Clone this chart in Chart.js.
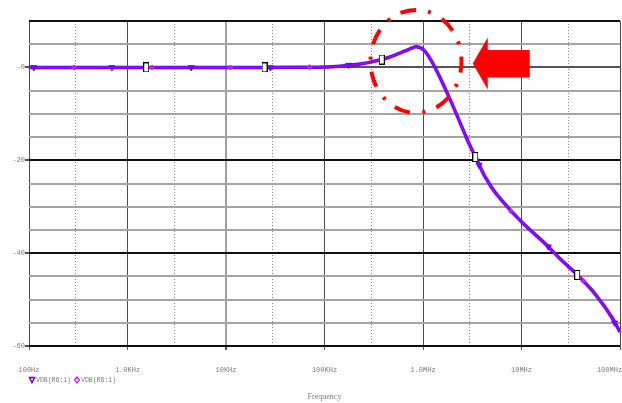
<!DOCTYPE html>
<html><head><meta charset="utf-8">
<script src="https://cdn.jsdelivr.net/npm/chart.js@4.4.0/dist/chart.umd.min.js"></script>
<style>html,body{margin:0;padding:0;background:#fff;overflow:hidden}canvas{display:block}</style>
</head><body>
<canvas id="c" width="622" height="403"></canvas>
<script>
// ---- data ----
const freqHz = [100, 200, 500, 1e3, 2e3, 5e3, 1e4, 2e4, 5e4, 8e4, 1.2e5, 1.7e5, 2.3e5, 3e5, 3.8e5, 4.8e5, 6e5, 7.2e5, 8.5e5, 1.02e6, 1.25e6, 1.52e6, 1.85e6, 2.16e6, 2.63e6, 3.2e6, 3.46e6, 3.71e6, 4.92e6, 7.33e6, 9.93e6, 1.87e7, 2.54e7, 3.7e7, 5.5e7, 8.6e7, 1e8];
const vdbA = [0, 0, 0, 0, 0, 0, 0, 0, 0.02, 0.05, 0.15, 0.4, 0.75, 1.2, 1.7, 2.4, 3.2, 3.9, 4.45, 3.75, 1.0, -2.6, -6.5, -9.8, -14.1, -18.1, -19.3, -21.0, -25.7, -30.2, -33.2, -38.6, -41.5, -44.7, -48.6, -54.4, -57.0];
const vdbB = [0, 0, 0, 0, 0, 0, 0, 0, 0.02, 0.05, 0.15, 0.4, 0.75, 1.2, 1.7, 2.4, 3.2, 3.9, 4.45, 3.75, 1.0, -2.6, -6.5, -9.8, -14.1, -18.1, -19.3, -21.0, -25.7, -30.2, -33.2, -38.6, -41.5, -44.7, -48.6, -54.4, -57.0];
const seriesLabels = ['VDB(R6:1)', 'VDB(R6:1)'];

const triFreq = [112, 695, 4.44e3, 2.82e4, 1.76e5, 3.71e6, 1.87e7, 8.8e7];
const triDb   = [0, 0, 0, 0, 0.5, -21.0, -38.6, -55.0];
const diaFreq = [286, 1.77e3, 1.11e4, 7.05e4, 7.85e6, 4.24e7];
const diaDb   = [0, 0, 0, 0.05, -31.0, -46.0];
const curFreq = [1.55e3, 2.46e4, 3.81e5, 3.4e6, 3.68e7];
const curDb   = [0, 0, 1.7, -19.3, -44.7];

const decadeTicks  = [1e2, 1e3, 1e4, 1e5, 1e6, 1e7, 1e8];
const decadeLabels = ['100Hz', '1.0KHz', '10KHz', '100KHz', '1.0MHz', '10MHz', '100MHz     '];
const halfDecadeTicks = [3e2, 3e3, 3e4, 3e5, 3e6, 3e7];
const yLabelValues = [0, -20, -40, -60];
const yLabelTexts  = ['-0', '-20', '-40', '-60'];

// ---- styles ----
const colA = '#6e00ff', colB = '#c81ee0';
const tickFont = {family: '"Liberation Mono", "DejaVu Sans Mono", monospace', size: 7};
const textCol = '#7a7a7a';

const pts = (xs, ys) => xs.map((x, i) => ({x: x, y: ys[i]}));

const cursorImg = document.createElement('canvas');
cursorImg.width = 6; cursorImg.height = 10;
(function(){const g = cursorImg.getContext('2d'); g.fillStyle = '#fff'; g.fillRect(0,0,6,10); g.strokeStyle = '#000'; g.lineWidth = 1; g.strokeRect(0.5,0.5,5,9);})();

const annot = {ellipseFreq: 8.5e5, ellipseDb: 1.3, rx: 45.5, ry: 51.5, arrowFreq: 3.2e6, arrowDb: 0.85};

const legendPlugin = {
  id: 'pspiceLegend',
  afterDraw(chart) {
    const ctx = chart.ctx;
    ctx.save();
    ctx.font = '6.5px "Liberation Mono", "DejaVu Sans Mono", monospace';
    ctx.textBaseline = 'middle';
    ctx.fillStyle = textCol;
    const y = 380;
    ctx.strokeStyle = colA; ctx.lineWidth = 1.5;
    ctx.beginPath(); ctx.moveTo(29.5, 377.5); ctx.lineTo(34.5, 377.5); ctx.lineTo(32, 382.5); ctx.closePath(); ctx.stroke();
    ctx.fillText(seriesLabels[0], 36, y);
    ctx.strokeStyle = colB; ctx.lineWidth = 1.2;
    ctx.beginPath(); ctx.moveTo(77, 377); ctx.lineTo(79.5, 380); ctx.lineTo(77, 383); ctx.lineTo(74.5, 380); ctx.closePath(); ctx.stroke();
    ctx.fillText(seriesLabels[1], 81, y);
    ctx.restore();
  }
};

const annotPlugin = {
  id: 'redMarks',
  afterDatasetsDraw(chart) {
    const ctx = chart.ctx, xs = chart.scales.x, ys = chart.scales.y;
    const cx = xs.getPixelForValue(annot.ellipseFreq), cy = ys.getPixelForValue(annot.ellipseDb);
    ctx.save();
    ctx.strokeStyle = '#ff0000'; ctx.lineWidth = 4; ctx.lineCap = 'butt';
    ctx.setLineDash([16, 12, 3, 12.6]);
    const a0 = -1.918;
    ctx.beginPath(); ctx.ellipse(cx, cy, annot.rx, annot.ry, 0, a0, a0 + Math.PI * 2); ctx.stroke();
    ctx.setLineDash([]);
    const tx = xs.getPixelForValue(annot.arrowFreq), ty = ys.getPixelForValue(annot.arrowDb);
    ctx.fillStyle = '#ff0000';
    ctx.beginPath();
    ctx.moveTo(tx, ty);
    ctx.lineTo(tx + 15, ty - 26);
    ctx.lineTo(tx + 15, ty - 13.5);
    ctx.lineTo(tx + 57, ty - 13.5);
    ctx.lineTo(tx + 57, ty + 14);
    ctx.lineTo(tx + 15, ty + 14);
    ctx.lineTo(tx + 15, ty + 26);
    ctx.closePath(); ctx.fill();
    ctx.restore();
  }
};

new Chart(document.getElementById('c'), {
  type: 'line',
  data: {
    datasets: [
      {label: 'cursor', data: pts(curFreq, curDb), showLine: false, pointStyle: cursorImg, pointRadius: 5, order: 0},
      {label: 'triMarks', data: pts(triFreq, triDb), showLine: false, pointStyle: 'triangle', rotation: 180, pointRadius: 3.5, backgroundColor: colA, borderColor: colA, borderWidth: 1, order: 1},
      {label: 'diaMarks', data: pts(diaFreq, diaDb), showLine: false, pointStyle: 'rectRot', pointRadius: 2.5, backgroundColor: colB, borderColor: colB, borderWidth: 1, order: 2},
      {label: seriesLabels[1], data: pts(freqHz, vdbB), borderColor: 'rgba(200,30,224,0.55)', borderWidth: 1.2, pointRadius: 0, cubicInterpolationMode: 'monotone', order: 3},
      {label: seriesLabels[0], data: pts(freqHz, vdbA), borderColor: colA, borderWidth: 3.5, pointRadius: 0, cubicInterpolationMode: 'monotone', order: 4}
    ]
  },
  options: {
    responsive: false,
    animation: false,
    devicePixelRatio: 1,
    layout: {autoPadding: false, padding: {top: 21, right: 2, left: 0, bottom: 0}},
    plugins: {legend: {display: false}, tooltip: {enabled: false}},
    scales: {
      x: {
        type: 'logarithmic', min: 100, max: 1e8, position: 'bottom',
        afterBuildTicks: s => { s.ticks = decadeTicks.map(v => ({value: v})); },
        afterFit: s => { s.height = 57; s.paddingLeft = 0; s.paddingRight = 0; },
        ticks: {autoSkip: false, maxRotation: 0, minRotation: 0, padding: 16, color: textCol, font: tickFont,
          callback: v => { const i = decadeTicks.indexOf(v); return i >= 0 ? decadeLabels[i] : ''; }},
        grid: {
          color: c => (c.tick && c.tick.value === 1e4) ? '#a0a0a0' : '#4a4a4a',
          lineWidth: c => (c.tick && c.tick.value === 1e4) ? 2 : 1,
          tickLength: 4, tickColor: '#555'
        },
        border: {display: false},
        title: {display: true, text: 'Frequency', color: textCol, padding: {top: 0, bottom: 1},
          font: {family: '"Liberation Serif", serif', size: 8}}
      },
      x2: {
        type: 'logarithmic', min: 100, max: 1e8, position: 'bottom',
        afterBuildTicks: s => { s.ticks = halfDecadeTicks.map(v => ({value: v})); },
        afterFit: s => { s.height = 0; s.paddingLeft = 0; s.paddingRight = 0; },
        ticks: {display: false},
        grid: {color: '#808080', lineWidth: 1, drawTicks: false},
        border: {display: false, dash: [1, 2]}
      },
      y: {
        type: 'linear', min: -60, max: 10,
        afterFit: s => { s.width = 29; },
        ticks: {stepSize: 5, padding: 0, color: textCol, font: tickFont, autoSkip: false,
          callback: v => { const i = yLabelValues.indexOf(v); return i >= 0 ? yLabelTexts[i] : ''; }},
        grid: {
          color: c => { const v = c.tick ? c.tick.value : 0; if (v === 10 || v === -20 || v === -40 || v === -60) return '#111'; if (v === 0) return '#555'; return '#a4a4a4'; },
          lineWidth: 2,
          tickLength: 4,
          tickColor: c => { const v = c.tick ? c.tick.value : 1; return yLabelValues.indexOf(v) >= 0 ? '#555' : 'rgba(0,0,0,0)'; }
        },
        border: {display: false}
      }
    }
  },
  plugins: [annotPlugin, legendPlugin]
});
</script>
</body></html>
